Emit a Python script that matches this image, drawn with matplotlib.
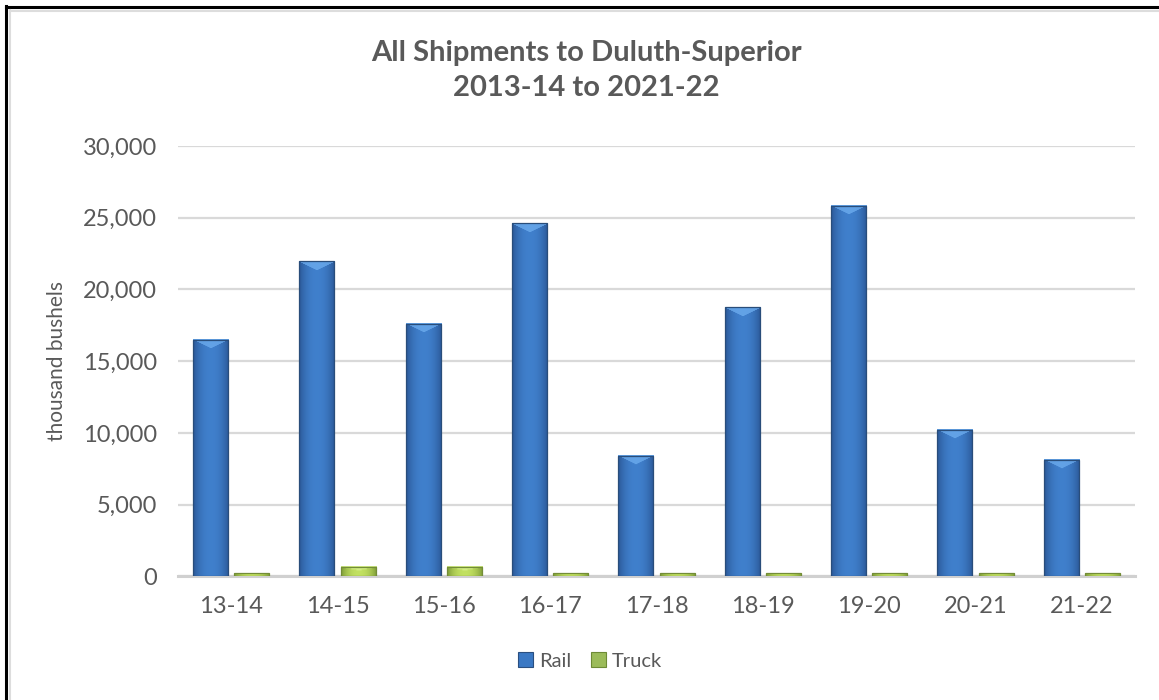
import numpy as np
import matplotlib
matplotlib.use("Agg")
import matplotlib.pyplot as plt
from matplotlib.patches import Rectangle
from matplotlib.lines import Line2D
from matplotlib.ticker import FuncFormatter

categories = ["13-14", "14-15", "15-16", "16-17", "17-18", "18-19", "19-20", "20-21", "21-22"]
rail = [16500, 21950, 17600, 24600, 8400, 18750, 25850, 10200, 8100]
truck = [200, 650, 650, 200, 200, 200, 200, 200, 200]
series_names = ["Rail", "Truck"]
title_lines = ["All Shipments to Duluth-Superior", "2013-14 to 2021-22"]
ylabel = "thousand bushels"
yticks = [0, 5000, 10000, 15000, 20000, 25000, 30000]

W, H = 1159, 700
plt.rcParams['font.family'] = ['Lato', 'DejaVu Sans']
TXT = '#595959'

fig = plt.figure(figsize=(W / 100, H / 100), dpi=100)
ax = fig.add_axes([178 / W, 1 - 576.3 / H, (1135 - 178) / W, (576.3 - 146) / H])

x = np.arange(len(categories))
bw = 0.33
off = 0.195
rail_bars = ax.bar(x - off, rail, bw, color='#3a74bd', zorder=2)
truck_bars = ax.bar(x + off, truck, bw, color='#9bbb59', zorder=2)

ax.set_xlim(-0.5, len(categories) - 0.5)
ax.set_ylim(0, 30000)
ax.set_yticks(yticks)
ax.yaxis.set_major_formatter(FuncFormatter(lambda v, p: f"{int(v):,}"))
ax.set_xticks(x)
ax.set_xticklabels(categories)
ax.tick_params(axis='y', length=0, pad=15, labelsize=17, labelcolor=TXT)
ax.tick_params(axis='x', length=0, pad=14, labelsize=17, labelcolor=TXT)
ax.grid(axis='y', color='#d9d9d9', linewidth=1.6, zorder=0)
ax.set_axisbelow(True)
for s in ['left', 'right', 'top']:
    ax.spines[s].set_visible(False)
ax.spines['bottom'].set_color('#d0d0d0')
ax.spines['bottom'].set_linewidth(2.2)
ax.spines['bottom'].set_zorder(1)


def shade(bars, edge, center, bevel, outline):
    fig.canvas.draw()
    edge = np.array(edge); center = np.array(center); bevel = np.array(bevel)
    for p in bars:
        x0, y0, w, h = p.get_x(), p.get_y(), p.get_width(), p.get_height()
        (px0, py0) = ax.transData.transform((x0, y0))
        (px1, py1) = ax.transData.transform((x0 + w, y0 + h))
        nx = max(int(round(px1 - px0)), 2)
        ny = max(int(round(py1 - py0)), 2)
        t = np.linspace(0, 1, nx)
        prof = 1 - np.abs(2 * t - 1) ** 2.2
        row = edge[None, :] + (center - edge)[None, :] * prof[:, None]
        img = np.repeat(row[None, :, :], ny, axis=0)
        b = min(10, max(ny // 2, 1))
        cols = np.arange(nx) - (nx - 1) / 2
        for r in range(b):
            half = (nx / 2) * (1 - 0.6 * r / b) - 2.5 * r / b * 4
            m = np.abs(cols) <= half
            a = 0.8
            img[r, m] = img[r, m] * (1 - a) + bevel * a
        img = np.clip(img, 0, 1)
        ax.imshow(img, extent=(x0, x0 + w, y0, y0 + h), origin='upper',
                  aspect='auto', interpolation='bilinear', zorder=3)
        ax.add_patch(Rectangle((x0, y0), w, h, facecolor='none',
                               edgecolor=outline, linewidth=0.9, zorder=4))


shade(rail_bars, (0.17, 0.35, 0.60), (0.25, 0.50, 0.80), (0.42, 0.67, 0.93), (0.16, 0.30, 0.48))
shade(truck_bars, (0.50, 0.62, 0.22), (0.76, 0.88, 0.38), (0.84, 0.94, 0.55), (0.45, 0.55, 0.22))
ax.set_xlim(-0.5, len(categories) - 0.5)
ax.set_ylim(0, 30000)

fig.text(586 / W, 1 - 53 / H, title_lines[0], ha='center', va='center',
         fontsize=21, fontweight='bold', color=TXT)
fig.text(586 / W, 1 - 88 / H, title_lines[1], ha='center', va='center',
         fontsize=21, fontweight='bold', color=TXT)
fig.text(57 / W, 1 - 361 / H, ylabel, rotation=90, ha='center', va='center',
         fontsize=15, color=TXT)

handles = [Rectangle((0, 0), 1, 1, facecolor='#3a78c4', edgecolor='#2a4f80', linewidth=0.8),
           Rectangle((0, 0), 1, 1, facecolor='#9bbb59', edgecolor='#6d8a35', linewidth=0.8)]
fig.legend(handles, series_names, loc='center', bbox_to_anchor=(590 / W, 1 - 661 / H),
           ncol=2, frameon=False, fontsize=14.5, handlelength=0.75, handleheight=0.75,
           handletextpad=0.3, columnspacing=1.0, labelcolor=TXT)

# figure border (left/top black line with light inner line)
fig.add_artist(Line2D([6 / W, 6 / W], [0, 1 - 6 / H], color='black', linewidth=2.2, transform=fig.transFigure))
fig.add_artist(Line2D([6 / W, 1], [1 - 7 / H, 1 - 7 / H], color='black', linewidth=2.2, transform=fig.transFigure))
fig.add_artist(Line2D([9.5 / W, 9.5 / W], [0, 1 - 10 / H], color='#dddddd', linewidth=1.5, transform=fig.transFigure))
fig.add_artist(Line2D([9.5 / W, 1], [1 - 10.5 / H, 1 - 10.5 / H], color='#dddddd', linewidth=1.5, transform=fig.transFigure))

fig.savefig("out.png", dpi=100)
